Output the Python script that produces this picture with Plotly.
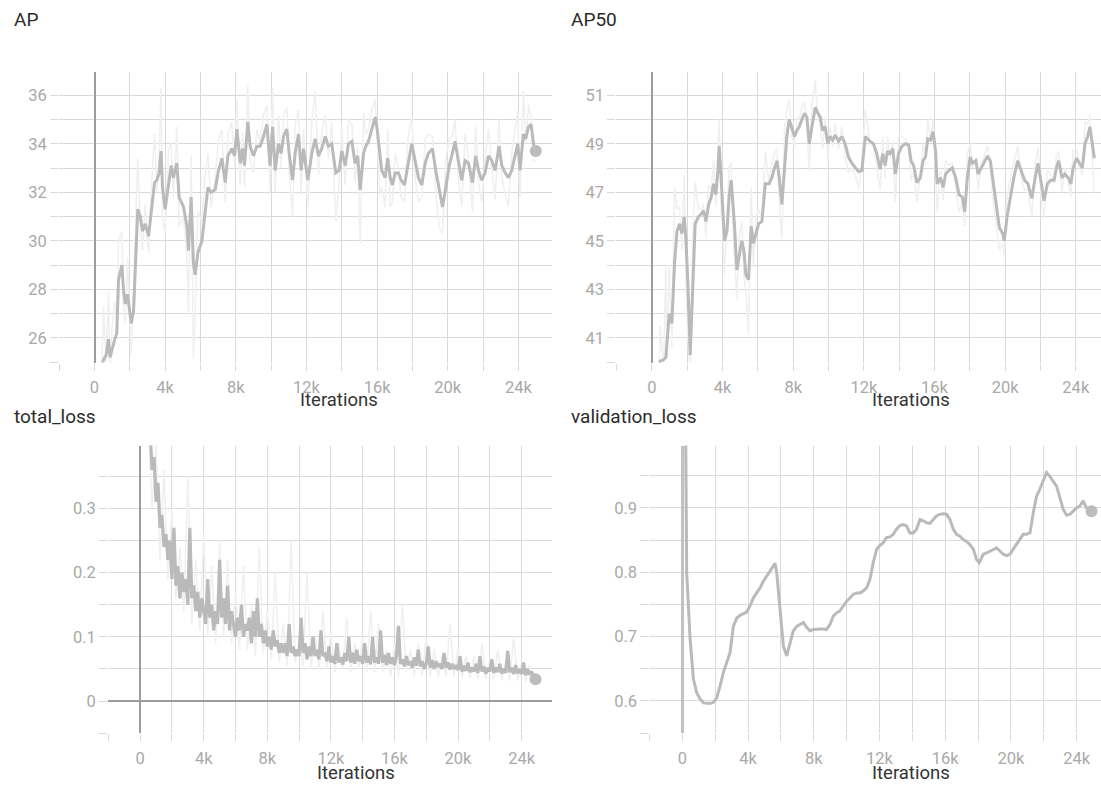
import plotly.graph_objects as go

# ---------------- data ----------------
# AP (COCO bbox AP) evaluated during training
ap_iters = [
    400, 510, 660, 790, 880, 980, 1130, 1260, 1360, 1550,
    1640, 1740, 1870, 2080, 2210, 2450, 2590, 2720, 2870, 3060,
    3250, 3400, 3530, 3660, 3770, 3850, 4000, 4190, 4340, 4470,
    4660, 4790, 5040, 5230, 5320, 5470, 5600, 5700, 5850, 6080,
    6230, 6420, 6600, 6830, 7020, 7210, 7400, 7550, 7770, 7930,
    8060, 8250, 8380, 8490, 8680, 8810, 9000, 9190, 9380, 9570,
    9760, 9940, 10080, 10230, 10420, 10570, 10700, 10890, 11020, 11210,
    11360, 11550, 11700, 11830, 12080, 12300, 12490, 12680, 12870, 13060,
    13240, 13430, 13660, 13850, 14000, 14190, 14380, 14570, 14750, 14900,
    15040, 15230, 15360, 15510, 15700, 15890, 16000, 16170, 16260, 16450,
    16600, 16740, 16870, 17020, 17210, 17360, 17550, 17740, 17960, 18150,
    18340, 18530, 18720, 18900, 19130, 19320, 19510, 19700, 19890, 20080,
    20260, 20410, 20600, 20790, 20980, 21170, 21400, 21580, 21740, 21920,
    22110, 22300, 22490, 22680, 22900, 23060, 23250, 23430, 23620, 23810,
    23960, 24090, 24280, 24410, 24570, 24720, 24850, 24980,
]
ap_smoothed = [
    24.8, 25.1, 25.3, 25.95, 25.2, 25.5, 25.9, 26.2, 28.4, 29.0,
    28.0, 27.4, 27.8, 26.6, 27.1, 31.3, 31.0, 30.4, 30.7, 30.2,
    31.3, 32.4, 32.5, 32.8, 33.7, 32.2, 31.3, 32.2, 33.1, 32.6,
    33.2, 31.8, 31.4, 30.6, 29.6, 31.8, 29.05, 28.6, 29.5, 30.0,
    31.0, 32.2, 32.0, 32.1, 32.9, 33.4, 32.4, 33.5, 33.8, 33.5,
    34.6, 33.2, 33.8, 33.1, 34.9, 33.9, 33.5, 33.9, 33.9, 34.3,
    34.8, 33.1, 34.7, 32.9, 34.0, 33.6, 34.3, 34.6, 33.6, 32.5,
    33.6, 34.4, 32.9, 33.8, 32.5, 33.6, 34.2, 33.5, 33.8, 34.3,
    33.9, 34.0, 32.8, 32.9, 33.7, 33.1, 34.0, 34.1, 33.2, 33.5,
    32.1, 33.6, 33.9, 34.1, 34.6, 35.1, 34.6, 33.3, 32.9, 32.6,
    33.4, 32.6, 32.3, 32.8, 32.8, 32.5, 32.3, 33.1, 34.0, 33.3,
    32.6, 32.3, 33.2, 33.6, 33.8, 32.9, 32.1, 31.4, 32.2, 33.1,
    33.6, 34.1, 33.3, 32.5, 33.3, 33.2, 32.4, 33.5, 32.9, 32.5,
    32.8, 33.5, 33.3, 32.9, 33.9, 33.1, 32.8, 32.6, 32.9, 33.6,
    34.0, 32.9, 34.4, 34.2, 34.7, 34.8, 34.0, 33.7,
]
ap_raw = [
    24.5, 27.3, 25.0, 27.9, 24.6, 26.3, 27.5, 26.8, 30.0, 30.4,
    27.2, 26.6, 29.3, 25.3, 28.0, 33.4, 30.6, 29.6, 31.5, 29.5,
    32.6, 34.4, 32.0, 33.6, 36.3, 31.0, 30.3, 33.8, 34.0, 31.8,
    34.7, 30.6, 31.0, 29.3, 27.0, 33.5, 25.2, 27.0, 31.2, 30.8,
    32.5, 33.6, 31.4, 32.6, 34.2, 34.6, 31.6, 34.4, 34.9, 33.0,
    35.8, 32.3, 34.5, 32.2, 36.4, 33.3, 32.8, 34.6, 34.0, 35.2,
    35.6, 32.0, 36.3, 32.0, 35.2, 33.0, 35.2, 35.5, 32.8, 31.0,
    34.8, 35.4, 31.9, 34.6, 31.4, 34.9, 36.2, 32.7, 34.5, 35.2,
    33.4, 34.9, 30.8, 32.4, 34.8, 32.3, 35.0, 34.8, 32.4, 33.9,
    29.9, 35.3, 34.4, 34.6, 35.4, 35.8, 34.2, 31.9, 32.2, 31.4,
    34.6, 31.4, 31.6, 33.6, 33.0, 31.8, 31.6, 34.2, 35.1, 32.6,
    31.6, 31.8, 34.2, 34.4, 34.3, 32.0, 30.6, 30.3, 33.4, 34.2,
    34.3, 35.0, 32.6, 31.4, 34.4, 33.4, 31.2, 34.7, 32.4, 31.6,
    33.4, 34.6, 33.0, 31.7, 35.0, 32.6, 31.9, 31.4, 33.6, 34.6,
    35.4, 31.8, 36.2, 34.0, 35.6, 35.1, 33.3, 33.3,
]

# AP50
ap50_iters = [
    400, 470, 660, 790, 850, 980, 1130, 1280, 1420, 1570,
    1700, 1830, 1920, 2040, 2170, 2300, 2450, 2640, 2790, 2920,
    3060, 3210, 3360, 3490, 3620, 3740, 3810, 3920, 4000, 4110,
    4250, 4380, 4490, 4570, 4680, 4810, 4940, 5090, 5210, 5320,
    5470, 5620, 5750, 5890, 6040, 6230, 6420, 6640, 6790, 6940,
    7080, 7210, 7360, 7510, 7640, 7770, 7920, 8080, 8210, 8340,
    8490, 8640, 8770, 8910, 9060, 9250, 9400, 9530, 9660, 9810,
    9960, 10090, 10230, 10380, 10570, 10750, 10940, 11130, 11320, 11510,
    11700, 11890, 12080, 12360, 12540, 12730, 12920, 13070, 13210, 13340,
    13490, 13640, 13780, 13970, 14160, 14350, 14540, 14670, 14820, 15010,
    15200, 15350, 15490, 15620, 15770, 15920, 16060, 16150, 16340, 16490,
    16630, 16820, 17010, 17200, 17390, 17580, 17710, 17860, 18020, 18150,
    18340, 18470, 18660, 18810, 19000, 19160, 19290, 19480, 19670, 19860,
    19950, 20110, 20300, 20490, 20710, 20900, 21100, 21290, 21510, 21700,
    21860, 22050, 22200, 22390, 22580, 22770, 22900, 23030, 23220, 23380,
    23570, 23720, 23850, 24040, 24230, 24370, 24520, 24670, 24800, 24940,
    25050,
]
ap50_smoothed = [
    39.8, 40.05, 40.1, 40.2, 40.75, 42.0, 41.6, 44.05, 45.4, 45.7,
    45.3, 46.0, 45.15, 43.2, 40.3, 42.8, 45.7, 46.0, 46.1, 46.25,
    45.8, 46.5, 46.8, 47.35, 46.9, 47.9, 48.9, 47.6, 46.5, 45.0,
    45.4, 46.9, 47.5, 46.8, 45.6, 43.8, 44.3, 45.0, 44.6, 43.6,
    43.4, 45.6, 44.9, 45.3, 45.7, 45.8, 47.35, 47.35, 47.6, 48.0,
    48.3, 47.6, 46.5, 48.0, 49.3, 50.0, 49.7, 49.3, 49.55, 49.7,
    50.0, 50.25, 50.1, 49.0, 49.7, 50.5, 50.25, 50.1, 49.55, 49.7,
    49.0, 49.3, 49.15, 49.35, 49.1, 49.3, 49.0, 48.45, 48.2, 48.0,
    47.85, 47.9, 49.3, 49.1, 49.0, 48.6, 47.95, 48.6, 48.1, 48.7,
    48.6, 48.8, 47.75, 48.6, 48.9, 49.0, 48.95, 48.3, 48.1, 47.4,
    47.6, 48.3, 48.45, 49.2, 49.15, 49.5, 48.7, 47.35, 47.6, 47.2,
    47.75, 47.9, 48.0, 47.6, 46.9, 46.8, 46.2, 47.6, 48.45, 48.2,
    48.3, 47.75, 48.0, 48.2, 48.5, 48.3, 47.6, 46.65, 45.55, 45.3,
    45.0, 46.0, 46.9, 47.6, 48.3, 47.9, 47.5, 47.35, 46.75, 47.6,
    48.2, 47.35, 46.65, 47.35, 47.5, 47.5, 48.0, 48.3, 47.6, 47.75,
    47.6, 47.35, 48.0, 48.4, 48.2, 48.0, 49.0, 49.3, 49.7, 49.0,
    48.4,
]
ap50_raw = [
    39.5, 41.5, 39.8, 43.9, 40.2, 44.0, 40.6, 47.2, 46.3, 46.4,
    44.6, 47.7, 43.5, 41.0, 39.6, 45.0, 47.4, 46.3, 46.3, 46.5,
    45.1, 47.3, 47.1, 48.3, 46.4, 49.3, 50.0, 46.2, 45.7, 43.6,
    46.3, 48.1, 48.2, 45.7, 44.2, 42.6, 45.2, 45.8, 43.6, 42.9,
    41.2, 47.2, 43.9, 46.0, 46.3, 45.9, 48.7, 47.4, 48.2, 48.6,
    48.8, 46.7, 45.1, 49.6, 50.4, 50.8, 49.3, 48.9, 50.1, 50.0,
    50.5, 50.7, 49.9, 47.9, 50.6, 51.6, 50.1, 49.8, 48.8, 50.1,
    48.3, 49.7, 48.9, 49.8, 48.8, 49.7, 48.5, 47.8, 48.0, 47.7,
    47.2, 48.0, 50.4, 49.0, 49.0, 48.0, 47.1, 49.3, 47.6, 49.3,
    48.4, 49.1, 46.6, 49.4, 49.3, 49.2, 48.9, 47.5, 47.8, 46.6,
    47.8, 49.0, 48.6, 50.0, 49.1, 50.0, 48.0, 46.2, 47.9, 46.7,
    48.3, 48.1, 48.2, 47.1, 46.2, 46.6, 45.6, 48.6, 49.0, 48.0,
    48.4, 47.1, 48.2, 48.5, 48.9, 48.1, 46.8, 45.8, 44.6, 44.9,
    44.4, 46.8, 47.6, 48.2, 48.9, 47.6, 47.1, 47.1, 46.0, 48.2,
    48.8, 46.7, 46.0, 47.9, 47.7, 47.4, 48.5, 48.7, 47.0, 48.0,
    47.5, 46.8, 48.7, 48.8, 48.0, 47.7, 49.9, 49.8, 50.2, 48.3,
    47.0,
]

# total_loss, logged every 125 iterations starting at 625 (smoothed curve)
loss_first_step, loss_step = 625, 125
total_loss_smoothed = [
    0.42, 0.36, 0.38,
    0.31, 0.34, 0.27, 0.29, 0.24, 0.26, 0.22, 0.25,
    0.19, 0.27, 0.18, 0.21, 0.16, 0.20, 0.17, 0.19,
    0.15, 0.27, 0.16, 0.18, 0.14, 0.17, 0.13, 0.16,
    0.14, 0.12, 0.19, 0.13, 0.15, 0.11, 0.14, 0.12,
    0.22, 0.13, 0.16, 0.12, 0.18, 0.11, 0.14, 0.12,
    0.10, 0.13, 0.11, 0.15, 0.10, 0.12, 0.11, 0.13,
    0.09, 0.14, 0.10, 0.16, 0.10, 0.12, 0.09, 0.11,
    0.085, 0.10, 0.08, 0.11, 0.085, 0.095, 0.075, 0.09,
    0.075, 0.09, 0.07, 0.12, 0.075, 0.085, 0.07, 0.08,
    0.07, 0.13, 0.075, 0.09, 0.065, 0.085, 0.07, 0.10,
    0.07, 0.08, 0.065, 0.11, 0.07, 0.075, 0.062, 0.085,
    0.06, 0.07, 0.058, 0.09, 0.06, 0.068, 0.057, 0.075,
    0.062, 0.10, 0.06, 0.075, 0.058, 0.08, 0.062, 0.07,
    0.058, 0.09, 0.06, 0.07, 0.057, 0.10, 0.06, 0.068,
    0.058, 0.11, 0.06, 0.072, 0.056, 0.075, 0.058, 0.068,
    0.056, 0.07, 0.117, 0.058, 0.065, 0.054, 0.07, 0.056,
    0.062, 0.052, 0.068, 0.055, 0.08, 0.054, 0.062, 0.05,
    0.058, 0.085, 0.052, 0.064, 0.05, 0.062, 0.053, 0.058,
    0.05, 0.075, 0.052, 0.06, 0.049, 0.058, 0.05, 0.056,
    0.048, 0.07, 0.046, 0.055, 0.047, 0.06, 0.045, 0.052,
    0.046, 0.058, 0.044, 0.07, 0.046, 0.054, 0.043, 0.052,
    0.046, 0.065, 0.044, 0.052, 0.045, 0.058, 0.043, 0.05,
    0.044, 0.078, 0.045, 0.052, 0.042, 0.056, 0.043, 0.05,
    0.042, 0.06, 0.04, 0.05, 0.041, 0.046, 0.038, 0.034,
]
# total_loss raw values, every 250 iterations starting at 500
raw_first_step, raw_step = 500, 250
total_loss_raw = [
    0.45, 0.30,
    0.40, 0.22, 0.36, 0.19,
    0.30, 0.16, 0.24, 0.14,
    0.35, 0.12, 0.22, 0.11,
    0.26, 0.10, 0.21, 0.09,
    0.25, 0.10, 0.22, 0.09,
    0.17, 0.08, 0.21, 0.08,
    0.15, 0.07, 0.24, 0.075,
    0.14, 0.065, 0.20, 0.06,
    0.12, 0.055, 0.25, 0.06,
    0.10, 0.055, 0.20, 0.05,
    0.10, 0.05, 0.14, 0.05,
    0.11, 0.045, 0.09, 0.05,
    0.13, 0.045, 0.09, 0.05,
    0.10, 0.045, 0.14, 0.045,
    0.12, 0.045, 0.08, 0.04,
    0.09, 0.04, 0.15, 0.045,
    0.08, 0.04, 0.09, 0.04,
    0.10, 0.04, 0.08, 0.038,
    0.07, 0.038, 0.12, 0.038,
    0.08, 0.036, 0.07, 0.035,
    0.07, 0.035, 0.09, 0.034,
    0.065, 0.034, 0.08, 0.033,
    0.06, 0.032, 0.10, 0.032,
    0.06, 0.03, 0.055, 0.028,
]

# validation_loss
val_iters = [
    60, 260, 470, 670, 870, 1080, 1280, 1480, 1680, 1890,
    2090, 2290, 2490, 2700, 2900, 3100, 3310, 3510, 3710, 3910,
    4120, 4320, 4520, 4730, 4930, 5130, 5330, 5540, 5640, 5740,
    5940, 6150, 6350, 6550, 6750, 6960, 7160, 7360, 7570, 7770,
    7970, 8170, 8380, 8580, 8780, 8990, 9190, 9390, 9590, 9800,
    10000, 10200, 10410, 10610, 10810, 11010, 11220, 11420, 11620, 11830,
    12030, 12230, 12430, 12640, 12840, 13040, 13250, 13450, 13650, 13850,
    14060, 14260, 14460, 14670, 14870, 15070, 15270, 15480, 15680, 15880,
    16090, 16290, 16490, 16690, 16900, 17100, 17300, 17500, 17710, 17910,
    18070, 18320, 18520, 18720, 18930, 19130, 19330, 19530, 19740, 19940,
    20140, 20340, 20550, 20750, 20950, 21160, 21360, 21560, 21760, 21970,
    22170, 22370, 22580, 22780, 22980, 23180, 23390, 23590, 23790, 24000,
    24200, 24400, 24600, 24910,
]
val_loss = [
    1.5, 0.80, 0.696, 0.634, 0.613, 0.603, 0.597, 0.596, 0.596, 0.598,
    0.605, 0.623, 0.644, 0.66, 0.675, 0.716, 0.729, 0.733, 0.735, 0.738,
    0.748, 0.76, 0.768, 0.776, 0.786, 0.794, 0.802, 0.812, 0.814, 0.80,
    0.737, 0.685, 0.67, 0.69, 0.709, 0.716, 0.719, 0.722, 0.714, 0.709,
    0.711, 0.712, 0.712, 0.712, 0.711, 0.719, 0.732, 0.737, 0.74, 0.748,
    0.755, 0.76, 0.766, 0.768, 0.768, 0.771, 0.776, 0.789, 0.815, 0.836,
    0.842, 0.846, 0.854, 0.855, 0.859, 0.867, 0.873, 0.874, 0.872, 0.861,
    0.861, 0.867, 0.882, 0.88, 0.877, 0.876, 0.882, 0.888, 0.89, 0.891,
    0.89, 0.882, 0.867, 0.859, 0.856, 0.851, 0.848, 0.843, 0.836, 0.82,
    0.815, 0.828, 0.83, 0.833, 0.836, 0.838, 0.833, 0.828, 0.826, 0.828,
    0.836, 0.843, 0.851, 0.859, 0.859, 0.861, 0.892, 0.918, 0.929, 0.944,
    0.955, 0.949, 0.942, 0.934, 0.916, 0.898, 0.889, 0.89, 0.895, 0.9,
    0.903, 0.911, 0.9, 0.895,
]

loss_iters = [loss_first_step + loss_step * i for i in range(len(total_loss_smoothed))]
raw_iters = [raw_first_step + raw_step * i for i in range(len(total_loss_raw))]

# ---------------- styling ----------------
W, H = 1101, 785
GRID = "#d9d9d9"
ZERO = "#9c9c9c"
RAW = "#f0f0f0"
LINE = "#bababa"
TICKFONT = dict(family="Roboto, Arial, sans-serif", size=16.5, color="#a9a9a9")
TITLEFONT = dict(family="Roboto, Arial, sans-serif", size=19, color="#2b2b2b")
AXTITLEFONT = dict(family="Roboto, Arial, sans-serif", size=18.5, color="#333333")


def fx(p):
    return p / W


def fy(p):
    return 1 - p / H


fig = go.Figure()

panels = [
    dict(title="AP", sfx="", xpx=(59, 552), ypx=(72, 362.5),
         xr=(-2010, 25900), yr=(24.99, 36.955), tick0=0, dtick=2, minor=1,
         title_pos=(12, 20), it_pos=(339, 400)),
    dict(title="AP50", sfx="2", xpx=(616.4, 1101), ypx=(72, 362.5),
         xr=(-2010, 25427), yr=(39.99, 51.955), tick0=1, dtick=2, minor=1,
         title_pos=(569, 20), it_pos=(911, 400)),
    dict(title="total_loss", sfx="3", xpx=(108.2, 551.8), ypx=(445.5, 733.3),
         xr=(-2010, 25900), yr=(-0.0502, 0.398), tick0=0, dtick=0.1, minor=0.05,
         title_pos=(12, 416), it_pos=(356, 773)),
    dict(title="validation_loss", sfx="4", xpx=(649.4, 1101), ypx=(445.5, 733.3),
         xr=(-2010, 25486), yr=(0.5498, 0.997), tick0=0, dtick=0.1, minor=0.05,
         title_pos=(569, 416), it_pos=(911, 773)),
]

annotations = []
for p in panels:
    s = p["sfx"]
    xa = "xaxis" + s
    ya = "yaxis" + s
    zero_color = "#c2c2c2" if p["title"] == "validation_loss" else ZERO
    zero_width = 3 if p["title"] == "validation_loss" else 1.5
    fig.layout[xa] = dict(
        domain=[fx(p["xpx"][0]), fx(p["xpx"][1])],
        range=list(p["xr"]),
        anchor="y" + s,
        tick0=0, dtick=4000, tickformat="~s",
        ticks="outside", ticklen=7, tickcolor=GRID, tickwidth=1.4,
        ticklabelstandoff=3,
        showgrid=True, gridcolor=GRID, gridwidth=1.4,
        minor=dict(tick0=0, dtick=2000, ticks="outside", ticklen=7,
                   tickcolor=GRID, tickwidth=1.4,
                   showgrid=True, gridcolor=GRID, gridwidth=1.4),
        zeroline=True, zerolinecolor=zero_color, zerolinewidth=zero_width,
        showline=False, tickfont=TICKFONT, fixedrange=True,
    )
    fig.layout[ya] = dict(
        domain=[fy(p["ypx"][1]), fy(p["ypx"][0])],
        range=list(p["yr"]),
        anchor="x" + s,
        tick0=p["tick0"], dtick=p["dtick"],
        ticks="outside", ticklen=8, tickcolor=GRID, tickwidth=1.4,
        showgrid=True, gridcolor=GRID, gridwidth=1.4,
        minor=dict(tick0=p["tick0"], dtick=p["minor"], ticks="outside", ticklen=8,
                   tickcolor=GRID, tickwidth=1.4,
                   showgrid=True, gridcolor=GRID, gridwidth=1.4),
        zeroline=True, zerolinecolor=ZERO, zerolinewidth=1.8,
        showline=False, tickfont=TICKFONT, fixedrange=True,
    )
    annotations.append(dict(
        text=p["title"], x=fx(p["title_pos"][0]), y=fy(p["title_pos"][1]),
        xref="paper", yref="paper", xanchor="left", yanchor="middle",
        showarrow=False, font=TITLEFONT))
    annotations.append(dict(
        text="Iterations", x=fx(p["it_pos"][0]), y=fy(p["it_pos"][1]),
        xref="paper", yref="paper", xanchor="center", yanchor="middle",
        showarrow=False, font=AXTITLEFONT))


def add_series(sfx, xs, ys, raw_x=None, raw_y=None, width=3.0, dot=True):
    xa, ya = "x" + sfx, "y" + sfx
    if raw_x is not None:
        fig.add_trace(go.Scatter(x=raw_x, y=raw_y, xaxis=xa, yaxis=ya, mode="lines",
                                 line=dict(color=RAW, width=1.6), hoverinfo="skip",
                                 showlegend=False))
    fig.add_trace(go.Scatter(x=xs, y=ys, xaxis=xa, yaxis=ya, mode="lines",
                             line=dict(color=LINE, width=width), showlegend=False))
    if dot:
        fig.add_trace(go.Scatter(x=[xs[-1]], y=[ys[-1]], xaxis=xa, yaxis=ya,
                                 mode="markers", marker=dict(color="#bcbcbc", size=12),
                                 showlegend=False, cliponaxis=False))


add_series("", ap_iters, ap_smoothed, ap_iters, ap_raw)
add_series("2", ap50_iters, ap50_smoothed, ap50_iters, ap50_raw, dot=False)
add_series("3", loss_iters, total_loss_smoothed, raw_iters, total_loss_raw, width=3.2)
add_series("4", val_iters, val_loss, width=3.0)

fig.update_layout(
    width=W, height=H, autosize=False,
    margin=dict(l=0, r=0, t=0, b=0, pad=0),
    paper_bgcolor="white", plot_bgcolor="white",
    annotations=annotations, showlegend=False,
)

fig.write_html("out.html", config={"displayModeBar": False})
